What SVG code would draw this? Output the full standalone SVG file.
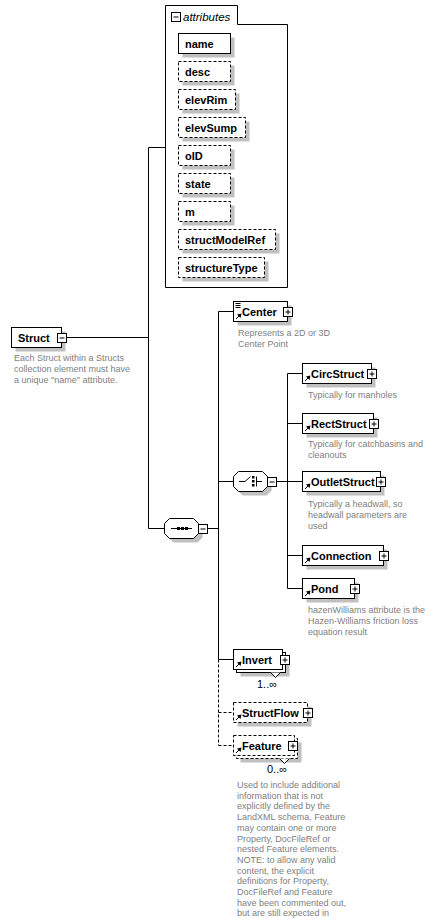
<svg xmlns="http://www.w3.org/2000/svg" xmlns:xlink="http://www.w3.org/1999/xlink" width="437" height="918" viewBox="0 0 437 918">
<style>
.box{fill:#fff;stroke:#000;stroke-width:1}
.dash{stroke-dasharray:3,2}
.sh{fill:#c0c0c0;stroke:none}
.ln{fill:none;stroke:#000;stroke-width:1}
.nm{font-family:"Liberation Sans",Arial,sans-serif;font-weight:bold;font-size:11px;fill:#000}
.ds{font-family:"Liberation Sans",Arial,sans-serif;font-size:9px;fill:#808080}
.oc{font-family:"Liberation Sans",Arial,sans-serif;font-size:11px;fill:#000;text-anchor:middle}
.it{font-family:"Liberation Sans",Arial,sans-serif;font-style:italic;font-size:11.5px;fill:#000}
</style>
<defs>
<g id="minus"><rect x="-4" y="-4" width="9" height="9" fill="#fff" stroke="#000"/><path d="M-2,0.5H3" stroke="#000"/></g>
<g id="plus"><rect x="-4" y="-4" width="9" height="9" fill="#fff" stroke="#000"/><path d="M-2,0.5H3M0.5,-2V3" stroke="#000"/></g>
<g id="ref"><path d="M2.5,-2.5L5.5,-5.5" stroke="#000" fill="none"/><polygon points="8,-8 3.5,-7 7,-3.5" fill="#000"/></g>
<path id="comp" d="M5,0H29L34,5V15L29,20H5L0,15V5Z"/>
</defs>

<g id="connectors" class="ln">
<path d="M148.5,147.5V528.5"/>
<path d="M148.5,147.5H165.5"/>
<path d="M66,337.5H148.5"/>
<path d="M148.5,528.5H164.5"/>
<path d="M206.5,528.5H218.5"/>
<path d="M218.5,311.5V659.5"/>
<path d="M218.5,659.5V745.5" class="dash"/>
<path d="M218.5,311.5H233.5"/>
<path d="M218.5,481.5H233.5"/>
<path d="M218.5,659.5H233.5"/>
<path d="M218.5,712.5H233.5" class="dash"/>
<path d="M218.5,745.5H233.5" class="dash"/>
<path d="M275.5,481.5H287.5"/>
<path d="M287.5,373.5V588.5"/>
<path d="M287.5,373.5H302.5"/>
<path d="M287.5,423.5H302.5"/>
<path d="M287.5,481.5H302.5"/>
<path d="M287.5,555.5H302.5"/>
<path d="M287.5,588.5H302.5"/>
</g>

<g id="attributes">
<path class="ln" d="M165.5,5.5H237.5V24.5H287.5V287.5H165.5Z"/>
<use xlink:href="#minus" x="175.5" y="16.5"/>
<text class="it" x="183" y="20.5">attributes</text>
</g>

<g id="attr-name"><rect class="sh" x="182.5" y="37.5" width="52" height="20"/><rect class="box" x="178.5" y="33.5" width="52" height="20"/><text class="nm" x="185" y="47.5">name</text></g>
<g id="attr-desc"><rect class="sh" x="182.5" y="65.5" width="52" height="20"/><rect class="box dash" x="178.5" y="61.5" width="52" height="20"/><text class="nm" x="185" y="75.5">desc</text></g>
<g id="attr-elevRim"><rect class="sh" x="182.5" y="93.5" width="57" height="20"/><rect class="box dash" x="178.5" y="89.5" width="57" height="20"/><text class="nm" x="185" y="103.5">elevRim</text></g>
<g id="attr-elevSump"><rect class="sh" x="182.5" y="121.5" width="67" height="20"/><rect class="box dash" x="178.5" y="117.5" width="67" height="20"/><text class="nm" x="185" y="131.5">elevSump</text></g>
<g id="attr-oID"><rect class="sh" x="182.5" y="149.5" width="52" height="20"/><rect class="box dash" x="178.5" y="145.5" width="52" height="20"/><text class="nm" x="185" y="159.5">oID</text></g>
<g id="attr-state"><rect class="sh" x="182.5" y="177.5" width="52" height="20"/><rect class="box dash" x="178.5" y="173.5" width="52" height="20"/><text class="nm" x="185" y="187.5">state</text></g>
<g id="attr-m"><rect class="sh" x="182.5" y="205.5" width="52" height="20"/><rect class="box dash" x="178.5" y="201.5" width="52" height="20"/><text class="nm" x="185" y="215.5">m</text></g>
<g id="attr-structModelRef"><rect class="sh" x="182.5" y="233.5" width="97" height="20"/><rect class="box dash" x="178.5" y="229.5" width="97" height="20"/><text class="nm" x="185" y="243.5">structModelRef</text></g>
<g id="attr-structureType"><rect class="sh" x="182.5" y="261.5" width="86" height="20"/><rect class="box dash" x="178.5" y="257.5" width="86" height="20"/><text class="nm" x="185" y="271.5">structureType</text></g>

<g id="struct">
<rect class="sh" x="15.5" y="331.5" width="50" height="20"/>
<rect class="box" x="11.5" y="327.5" width="50" height="20"/>
<text class="nm" x="18" y="341.5">Struct</text>
<use xlink:href="#minus" x="61.5" y="337.5"/>
<text class="ds" x="14" y="361">Each Struct within a Structs</text>
<text class="ds" x="14" y="372">collection element must have</text>
<text class="ds" x="14" y="383">a unique  "name" attribute.</text>
</g>

<g id="sequence">
<use xlink:href="#comp" x="168.5" y="522.5" class="sh"/>
<use xlink:href="#comp" x="164.5" y="518.5" fill="#fff" stroke="#000"/>
<path class="ln" d="M171,528.5H192"/>
<rect x="177" y="527" width="3" height="3"/><rect x="181" y="527" width="3" height="3"/><rect x="185" y="527" width="3" height="3"/>
<use xlink:href="#minus" x="202.5" y="528.5"/>
</g>

<g id="choice">
<use xlink:href="#comp" x="237.5" y="475.5" class="sh"/>
<use xlink:href="#comp" x="233.5" y="471.5" fill="#fff" stroke="#000"/>
<path class="ln" d="M239,481.5H245L250.5,476.5M256.5,476.5V486.5M256.5,481.5H262"/>
<rect x="252" y="476" width="2.5" height="2.5"/><rect x="252" y="480" width="2.5" height="2.5"/><rect x="252" y="484" width="2.5" height="2.5"/>
<use xlink:href="#minus" x="271.5" y="481.5"/>
</g>

<g id="center">
<rect class="sh" x="237.5" y="305.5" width="54" height="20"/>
<rect class="box" x="233.5" y="301.5" width="54" height="20"/>
<path class="ln" d="M235.5,303.5H240.5M235.5,305.5H240.5M235.5,307.5H240.5"/>
<use xlink:href="#ref" x="233.5" y="321.5"/>
<text class="nm" x="242" y="315.5">Center</text>
<use xlink:href="#plus" x="287.5" y="311.5"/>
<text class="ds" x="238" y="336">Represents a 2D or 3D</text>
<text class="ds" x="238" y="347">Center Point</text>
</g>

<g id="circstruct">
<rect class="sh" x="306.5" y="367.5" width="69" height="20"/>
<rect class="box" x="302.5" y="363.5" width="69" height="20"/>
<use xlink:href="#ref" x="302.5" y="383.5"/>
<text class="nm" x="311" y="377.5">CircStruct</text>
<use xlink:href="#plus" x="371.5" y="373.5"/>
<text class="ds" x="308" y="398">Typically for manholes</text>
</g>

<g id="rectstruct">
<rect class="sh" x="306.5" y="417.5" width="71" height="20"/>
<rect class="box" x="302.5" y="413.5" width="71" height="20"/>
<use xlink:href="#ref" x="302.5" y="433.5"/>
<text class="nm" x="311" y="427.5">RectStruct</text>
<use xlink:href="#plus" x="373.5" y="423.5"/>
<text class="ds" x="308" y="447">Typically for catchbasins and</text>
<text class="ds" x="308" y="458">cleanouts</text>
</g>

<g id="outletstruct">
<rect class="sh" x="306.5" y="475.5" width="78" height="20"/>
<rect class="box" x="302.5" y="471.5" width="78" height="20"/>
<use xlink:href="#ref" x="302.5" y="491.5"/>
<text class="nm" x="311" y="485.5">OutletStruct</text>
<use xlink:href="#plus" x="380.5" y="481.5"/>
<text class="ds" x="308" y="507">Typically a headwall, so</text>
<text class="ds" x="308" y="518">headwall parameters are</text>
<text class="ds" x="308" y="529">used</text>
</g>

<g id="connection">
<rect class="sh" x="306.5" y="549.5" width="81" height="20"/>
<rect class="box" x="302.5" y="545.5" width="81" height="20"/>
<use xlink:href="#ref" x="302.5" y="565.5"/>
<text class="nm" x="311" y="559.5">Connection</text>
<use xlink:href="#plus" x="383.5" y="555.5"/>
</g>

<g id="pond">
<rect class="sh" x="306.5" y="582.5" width="52" height="20"/>
<rect class="box" x="302.5" y="578.5" width="52" height="20"/>
<use xlink:href="#ref" x="302.5" y="598.5"/>
<text class="nm" x="311" y="592.5">Pond</text>
<use xlink:href="#plus" x="354.5" y="588.5"/>
<text class="ds" x="308" y="613">hazenWilliams attribute is the</text>
<text class="ds" x="308" y="624">Hazen-Williams friction loss</text>
<text class="ds" x="308" y="635">equation result</text>
</g>

<g id="invert">
<rect class="sh" x="240.5" y="656.5" width="49" height="20"/>
<rect class="box" x="236.5" y="652.5" width="49" height="20"/>
<rect class="box" x="233.5" y="649.5" width="49" height="20"/>
<use xlink:href="#ref" x="233.5" y="669.5"/>
<text class="nm" x="242" y="663.5">Invert</text>
<use xlink:href="#plus" x="284.5" y="659.5"/>
<polyline points="270.5,672.5 275.5,677.5 280.5,672.5" fill="#fff" stroke="#000"/>
<text class="oc" x="267" y="688">1..∞</text>
</g>

<g id="structflow">
<rect class="sh" x="237.5" y="706.5" width="74" height="20"/>
<rect class="box dash" x="233.5" y="702.5" width="74" height="20"/>
<use xlink:href="#ref" x="233.5" y="722.5"/>
<text class="nm" x="242" y="716.5">StructFlow</text>
<use xlink:href="#plus" x="307.5" y="712.5"/>
</g>

<g id="feature">
<rect class="sh" x="240.5" y="742.5" width="61" height="20"/>
<rect class="box dash" x="236.5" y="738.5" width="61" height="20"/>
<rect class="box dash" x="233.5" y="735.5" width="61" height="20"/>
<use xlink:href="#ref" x="233.5" y="755.5"/>
<text class="nm" x="242" y="749.5">Feature</text>
<use xlink:href="#plus" x="292.5" y="745.5"/>
<polyline points="279.5,758.5 284.5,763.5 289.5,758.5" fill="#fff" stroke="#000"/>
<text class="oc" x="277" y="773">0..∞</text>
<text class="ds" x="237" y="788">Used to include additional</text>
<text class="ds" x="237" y="798.7">information that is not</text>
<text class="ds" x="237" y="809.4">explicitly defined by the</text>
<text class="ds" x="237" y="820.1">LandXML schema, Feature</text>
<text class="ds" x="237" y="830.8">may contain one or more</text>
<text class="ds" x="237" y="841.5">Property, DocFileRef or</text>
<text class="ds" x="237" y="852.2">nested Feature elements.</text>
<text class="ds" x="237" y="862.9">NOTE: to allow any valid</text>
<text class="ds" x="237" y="873.6">content, the explicit</text>
<text class="ds" x="237" y="884.3">definitions for Property,</text>
<text class="ds" x="237" y="895">DocFileRef and Feature</text>
<text class="ds" x="237" y="905.7">have been commented out,</text>
<text class="ds" x="237" y="916.4">but are still expected in</text>
</g>
</svg>
